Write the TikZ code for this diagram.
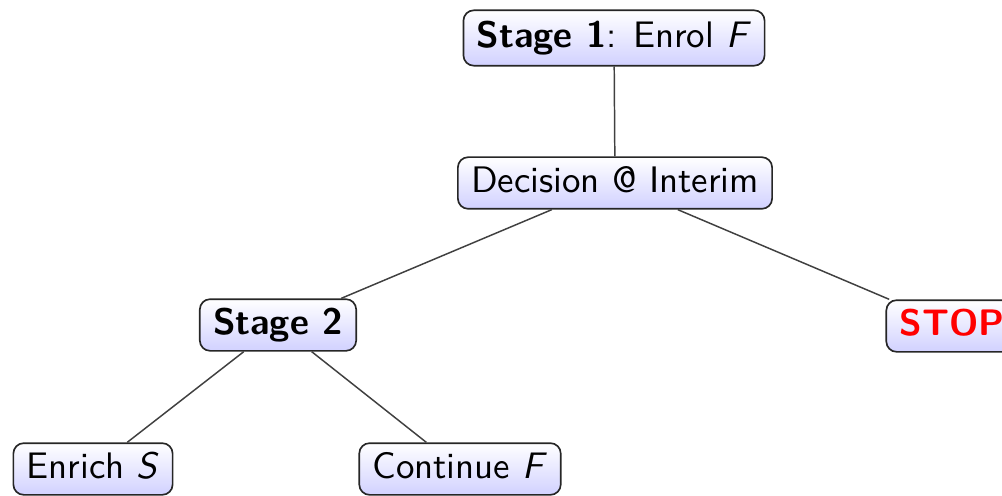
\documentclass[tikz,border=0pt]{standalone}
\usetikzlibrary{shadings}
\renewcommand{\familydefault}{\sfdefault}
\begin{document}
\begin{tikzpicture}[x=0.271pt,y=-0.271pt,
  treebox/.style={draw=black!85, line width=0.45pt, rounded corners=2.8pt,
    top color=white, bottom color=blue!18, inner xsep=3.6pt, inner ysep=2.5pt,
    text height=7pt, text depth=2pt, font=\sffamily},
  edge/.style={draw=black!75, line width=0.4pt}]
\useasboundingbox (0,0) rectangle (1002,496);
\node[treebox, minimum height=15pt] (s1) at (614,38) {\textbf{Stage 1}: Enrol \textit{F}};
\node[treebox] (dec) at (615,183) {Decision @ Interim};
\node[treebox] (s2) at (278,325) {\textbf{Stage 2}};
\node[treebox] (stop) at (952,326) {\textbf{\textcolor{red}{STOP}}};
\node[treebox] (en) at (93,469) {Enrich \textit{S}};
\node[treebox] (co) at (460,469) {Continue \textit{F}};
\draw[edge] (s1) -- (dec);
\draw[edge] (dec) -- (s2);
\draw[edge] (dec) -- (stop);
\draw[edge] (s2) -- (en);
\draw[edge] (s2) -- (co);
\end{tikzpicture}
\end{document}
